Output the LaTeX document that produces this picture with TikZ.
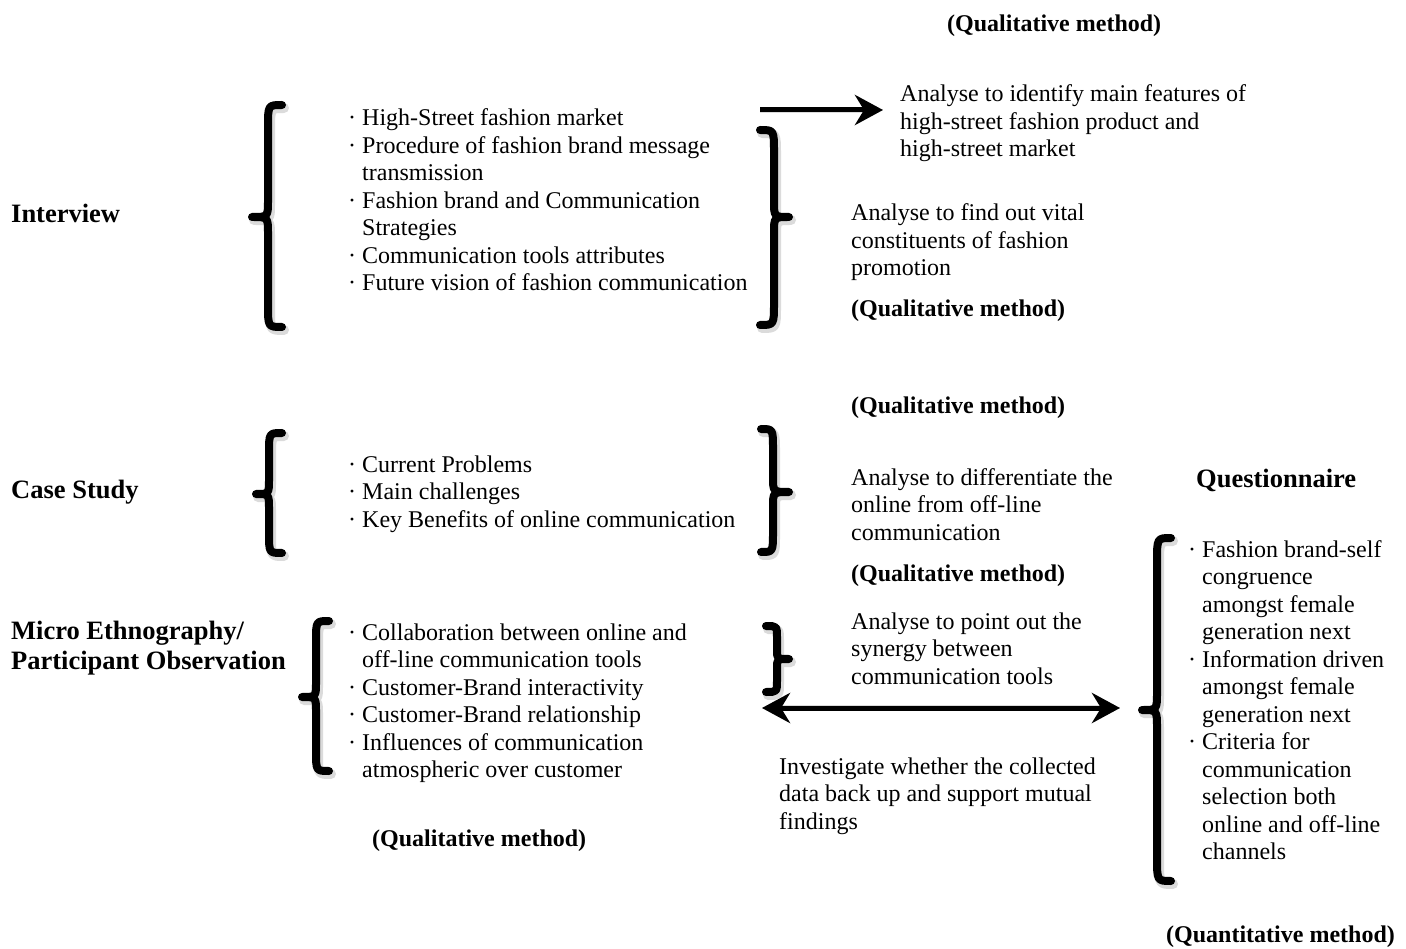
\documentclass[tikz,border=0pt]{standalone}
\usepackage{fontspec}
\setmainfont{Liberation Serif}
\usetikzlibrary{arrows.meta}

% multi-line nodes are placed by the baseline of their last line
\tikzset{
  body/.style={anchor=base west, inner sep=0pt, align=left,
    font=\fontsize{24pt}{27.5pt}\selectfont},
  head/.style={anchor=base west, inner sep=0pt, align=left,
    font=\fontsize{26.5pt}{30pt}\selectfont\bfseries},
  method/.style={anchor=base west, inner sep=0pt,
    font=\fontsize{24pt}{27.5pt}\selectfont\bfseries},
  bracestroke/.style={line width=8pt, line cap=round, line join=round, black},
  braceshade/.style={line width=10pt, line cap=round, line join=round, black, opacity=0.14},
  bigtip/.tip={Stealth[length=28pt,width=30pt,inset=9pt]},
  arrowline/.style={line width=5pt, -bigtip, black},
  twowayline/.style={line width=5pt, bigtip-bigtip, black},
  arrowshade/.style={line width=6pt, -bigtip, black, opacity=0.14},
  twowayshade/.style={line width=6pt, bigtip-bigtip, black, opacity=0.14},
}

% curly brace: #1 spine x, #2 tip x, #3 end x, #4 top y, #5 tip y, #6 bottom y, #7 end radius
\newcommand{\curlybrace}[7]{%
  \draw[braceshade, shift={(2,3)}] (#3,#4) .. controls (#1,#4) .. (#1,#4+#7)
    -- (#1,#5-0.75*#7) .. controls (#1,#5) .. (#2,#5)
    .. controls (#1,#5) .. (#1,#5+0.75*#7)
    -- (#1,#6-#7) .. controls (#1,#6) .. (#3,#6);
  \draw[bracestroke] (#3,#4) .. controls (#1,#4) .. (#1,#4+#7)
    -- (#1,#5-0.75*#7) .. controls (#1,#5) .. (#2,#5)
    .. controls (#1,#5) .. (#1,#5+0.75*#7)
    -- (#1,#6-#7) .. controls (#1,#6) .. (#3,#6);
}
\newcommand{\contline}{\hphantom{·\ }}

\begin{document}
\begin{tikzpicture}[x=1pt, y=-1pt]
\useasboundingbox[fill=white] (0,0) rectangle (1406,949);

% method labels on the left
\node[head] (interview) at (11,223) {Interview};
\node[head] (casestudy) at (11,498) {Case Study};
\node[head] (micro) at (11,669) {Micro Ethnography/\\Participant Observation};

% topic lists
\node[body] (ilist) at (348,291) {· High-Street fashion market\\
  · Procedure of fashion brand message\\\contline transmission\\
  · Fashion brand and Communication\\\contline Strategies\\
  · Communication tools attributes\\
  · Future vision of fashion communication};
\node[body] (clist) at (348,527) {· Current Problems\\· Main challenges\\
  · Key Benefits of online communication};
\node[body] (mlist) at (348,777.5) {· Collaboration between online and\\
  \contline off-line communication tools\\
  · Customer-Brand interactivity\\
  · Customer-Brand relationship\\
  · Influences of communication\\
  \contline atmospheric over customer};

% analysis notes
\node[method] (m0) at (947,32) {(Qualitative method)};
\node[body] (a1) at (900,157) {Analyse to identify main features of\\
  high-street fashion product and\\high-street market};
\node[body] (a2) at (851,276) {Analyse to find out vital\\constituents of fashion\\promotion};
\node[method] (m1) at (851,317) {(Qualitative method)};
\node[method] (m2) at (851,414) {(Qualitative method)};
\node[body] (a3) at (851,540) {Analyse to differentiate the\\online from off-line\\communication};
\node[method] (m3) at (851,581) {(Qualitative method)};
\node[body] (a4) at (851,684) {Analyse to point out the\\synergy between\\communication tools};
\node[body] (inv) at (779,829) {Investigate whether the collected\\
  data back up and support mutual\\findings};
\node[method] (m4) at (372,846) {(Qualitative method)};

% questionnaire column
\node[head] (quest) at (1196,487) {Questionnaire};
\node[body] (qlist) at (1188,859.5) {· Fashion brand-self\\\contline congruence\\
  \contline amongst female\\\contline generation next\\
  · Information driven\\\contline amongst female\\\contline generation next\\
  · Criteria for\\\contline communication\\\contline selection both\\
  \contline online and off-line\\\contline channels};
\node[method] (m5) at (1166,942) {(Quantitative method)};

% braces
\curlybrace{268}{252}{282}{105}{217}{327}{22}
\curlybrace{774}{789}{760}{130}{217}{325}{22}
\curlybrace{269}{256}{282}{433}{494}{553}{20}
\curlybrace{773}{789}{761}{429}{492}{552}{20}
\curlybrace{316}{302}{329}{621}{697}{771}{20}
\curlybrace{777}{789}{766}{626}{659}{692}{12}
\curlybrace{1157}{1142}{1171}{538}{710}{881}{24}

% connectors
\coordinate (a1s) at (760,110);
\coordinate (a1e) at (883,110);
\coordinate (d1) at (762,708);
\coordinate (d2) at (1120,708);
\draw[arrowshade, shift={(2,4)}] (a1s) -- (a1e);
\draw[twowayshade, shift={(2,4)}] (d1) -- (d2);
\draw[arrowline] (a1s) -- (a1e);
\draw[twowayline] (d1) -- (d2);
\end{tikzpicture}
\end{document}
